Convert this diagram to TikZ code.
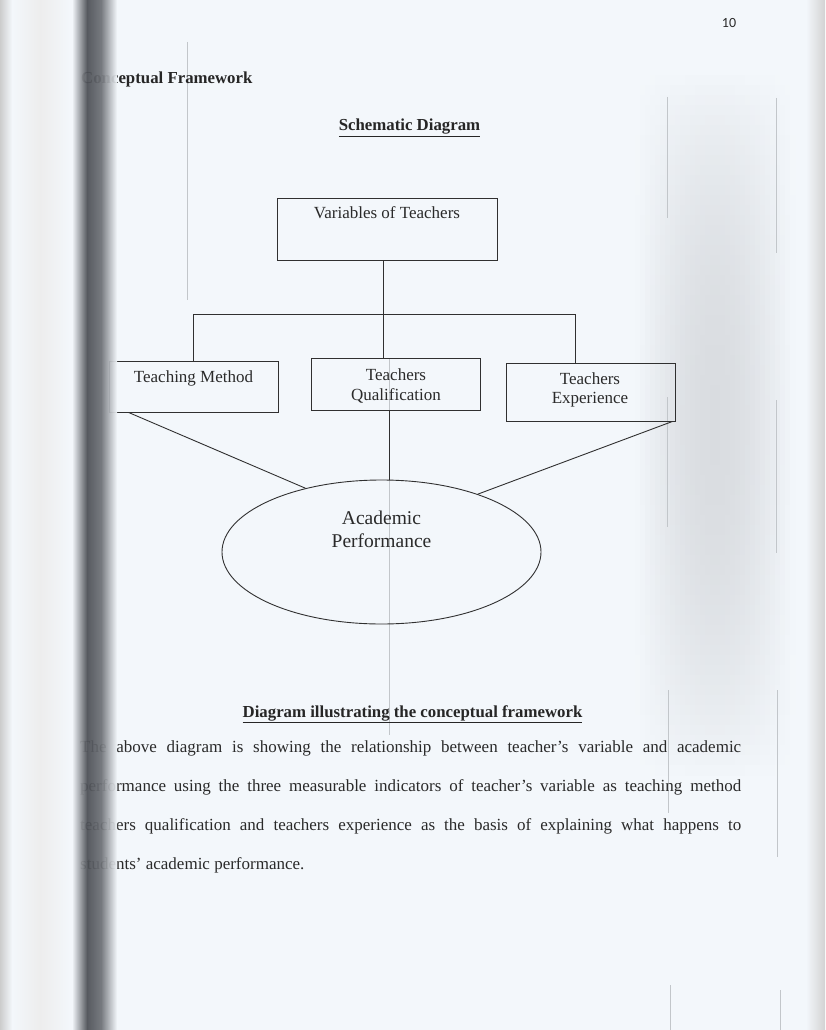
\documentclass[tikz,border=0pt]{standalone}
\usepackage{fontspec}
\setmainfont{Liberation Serif}
\newfontfamily\numfont{Carlito}
\usetikzlibrary{shapes.geometric}
\definecolor{bgc}{HTML}{F3F7FB}
\definecolor{ink}{HTML}{2A2A2A}
\definecolor{lin}{HTML}{303030}
\definecolor{ghost}{HTML}{C2C6CA}
\definecolor{shd}{HTML}{4C4F55}
\definecolor{patch}{HTML}{D9DCE0}
\tikzset{
  body/.style={font=\fontsize{17}{20}\selectfont, text=ink, inner sep=0pt},
  ttl/.style={font=\fontsize{16.8}{20}\selectfont\bfseries, text=ink!90!black, inner sep=0pt},
  boxlbl/.style={font=\fontsize{17}{20}\selectfont, text=ink, inner sep=0pt, anchor=base},
  ellbl/.style={font=\fontsize{19.5}{23}\selectfont, text=ink, inner sep=0pt, anchor=base},
  framebox/.style={draw=lin, line width=0.9pt, rectangle, inner sep=0pt},
  conn/.style={draw=lin, line width=0.9pt},
  bleed/.style={draw=ghost, line width=0.6pt},
}
\begin{document}
\begin{tikzpicture}[x=1pt,y=-1pt]
\useasboundingbox (0,0) rectangle (825,1030);
\fill[bgc] (0,0) rectangle (825,1030);
% left scan edge tones
\shade[left color=gray!40, right color=bgc] (0,0) rectangle (12,1030);
\shade[left color=bgc, right color=gray!14] (12,0) rectangle (40,1030);
\shade[left color=gray!14, right color=bgc] (40,0) rectangle (70,1030);
% right grey patch (solid cells, soft profile)
\foreach \i in {0,...,69}{
  \foreach \k in {0,...,31}{
    \pgfmathtruncatemacro{\pc}{100*sin(180*(\i+0.5)/70)^0.7*sin(180*(\k+0.5)/32)}
    \fill[patch!\pc!bgc] (635+5*\k,75+10*\i) rectangle (640.6+5*\k,85.6+10*\i);
  }
}
\shade[left color=bgc, right color=gray!35] (806,0) rectangle (825,1030);
% bleed-through lines
\draw[bleed] (187,42) -- (187,300);
\draw[bleed] (389,358) -- (389,735);
\draw[bleed] (667,97) -- (667,218);
\draw[bleed] (776,98) -- (776,253);
\draw[bleed] (667,397) -- (667,527);
\draw[bleed] (776,400) -- (776,553);
\draw[bleed] (668,690) -- (668,813);
\draw[bleed] (777,690) -- (777,857);
\draw[bleed] (670,985) -- (670,1030);
\draw[bleed] (780,990) -- (780,1030);

% page number and headings
\node[font=\numfont\fontsize{14}{16}\selectfont, text=ink, inner sep=0pt] (pg) at (729,23) {10};
\node[ttl, anchor=base west] (cf) at (81,84) {Conceptual Framework};
\node[ttl, anchor=base] (sd) at (409.5,131) {\underline{Schematic Diagram}};

% boxes
\node[framebox, minimum width=220pt, minimum height=62pt] (vt) at (387,229) {};
\node[boxlbl] (vtl) at (387,218) {Variables of Teachers};
\node[framebox, minimum width=169pt, minimum height=51pt] (tm) at (193.5,386.5) {};
\node[boxlbl] (tml) at (193.5,382) {Teaching Method};
\node[framebox, minimum width=169pt, minimum height=52pt] (tq) at (395.5,384) {};
\node[boxlbl] (tql1) at (396,380) {Teachers};
\node[boxlbl] (tql2) at (396,400) {Qualification};
\node[framebox, minimum width=169pt, minimum height=58pt] (te) at (590.5,392) {};
\node[boxlbl] (tel1) at (590,384) {Teachers};
\node[boxlbl] (tel2) at (590,403) {Experience};

% ellipse
\node[draw=lin, line width=0.9pt, ellipse, minimum width=319pt, minimum height=144pt, inner sep=0pt] (ap) at (381.5,552) {};
\node[ellbl] (apl1) at (381.5,524.5) {Academic};
\node[ellbl] (apl2) at (381.5,547.5) {Performance};

% connectors
\coordinate (j) at (383,314);
\coordinate (hr) at (575,314);
\coordinate (q) at (389,0);
\draw[conn] (vt.south -| j) -- (j);
\draw[conn] (tm.north) |- (hr) -- (te.north -| hr);
\draw[conn] (j) -- (tq.north -| j);
\draw[conn] ([xshift=20pt]tm.south west) -- (ap.140);
\draw[conn] (tq.south -| q) -- (ap.north -| q);
\draw[conn] ([xshift=-3pt]te.south east) -- (ap.31);

% caption and paragraph
\node[ttl, anchor=base] (cap) at (412.5,717) {\underline{Diagram illustrating the conceptual framework}};
\node[body, anchor=base west] (p1) at (80,752) {\makebox[661pt][s]{The above diagram is showing the relationship between teacher’s variable and academic}};
\node[body, anchor=base west] (p2) at (80,791) {\makebox[661pt][s]{performance using the three measurable indicators of teacher’s variable as teaching method}};
\node[body, anchor=base west] (p3) at (80,830) {\makebox[661pt][s]{teachers qualification and teachers experience as the basis of explaining what happens to}};
\node[body, anchor=base west] (p4) at (80,869) {students’ academic performance.};

% binding shadow over the left margin
\shade[left color=bgc, right color=shd, opacity=0.93] (72,0) rectangle (87,1030);
\shade[left color=shd, right color=shd!80!bgc, opacity=0.93] (87,0) rectangle (101,1030);
\shade[left color=shd!80!bgc, right color=bgc, opacity=0.93] (101,0) rectangle (117,1030);
\end{tikzpicture}
\end{document}
